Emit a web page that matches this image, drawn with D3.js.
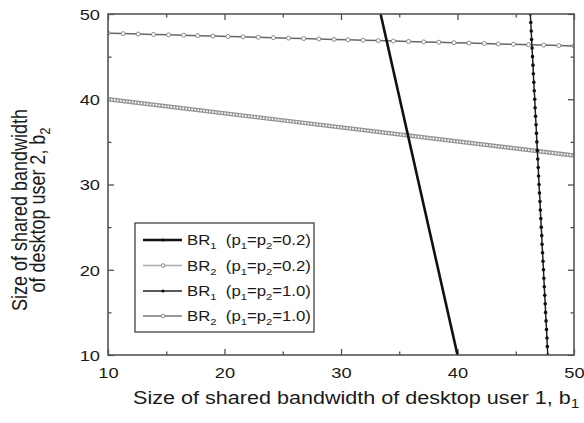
<!DOCTYPE html>
<html>
<head>
<meta charset="utf-8">
<script src="https://cdnjs.cloudflare.com/ajax/libs/d3/7.8.5/d3.min.js"></script>
<style>
  html, body { margin: 0; padding: 0; background: #fff; }
  svg { display: block; font-family: "Liberation Sans", Arial, sans-serif; }
  text { white-space: pre; }
</style>
</head>
<body>
<div id="chart"></div>
<script>
// ticks
const b1Ticks = [10, 20, 30, 40, 50];
const b2Ticks = [10, 20, 30, 40, 50];
const minorTicks = [15, 25, 35, 45];

// BR1 (p1=p2=0.2), plain thick black line
const br1LowB1 = [33.4, 40.0];
const br1LowB2 = [50, 10];

// BR2 (p1=p2=0.2), dense hollow markers
const br2LowB1 = [10, 50];
const br2LowB2 = [40.0, 33.4];

// BR1 (p1=p2=1.0), small filled markers
const br1HighB2 = [10, 11, 12, 13, 14, 15, 16, 17, 18, 19, 20, 21, 22, 23, 24, 25, 26, 27, 28, 29, 30,
                   31, 32, 33, 34, 35, 36, 37, 38, 39, 40, 41, 42, 43, 44, 45, 46, 47, 48, 49, 50];
const br1HighB1 = [47.75, 47.71, 47.68, 47.64, 47.60, 47.56, 47.53, 47.49, 47.45, 47.41, 47.38,
                   47.34, 47.30, 47.26, 47.23, 47.19, 47.15, 47.11, 47.08, 47.04, 47.00,
                   46.96, 46.93, 46.89, 46.85, 46.81, 46.78, 46.74, 46.70, 46.66, 46.63,
                   46.59, 46.55, 46.51, 46.48, 46.44, 46.40, 46.36, 46.33, 46.29, 46.25];

// BR2 (p1=p2=1.0), hollow circle markers
const br2HighB1 = [10, 11.3, 12.6, 13.9, 15.2, 16.5, 17.7, 19.0, 20.3, 21.6, 22.9, 24.2, 25.5, 26.8, 28.1, 29.4,
                   30.6, 31.9, 33.2, 34.5, 35.8, 37.1, 38.4, 39.7, 41.0, 42.3, 43.5, 44.8, 46.1, 47.4, 48.7, 50];
const br2HighB2 = [47.75, 47.70, 47.65, 47.60, 47.56, 47.51, 47.46, 47.41, 47.36, 47.32, 47.27, 47.22,
                   47.17, 47.12, 47.07, 47.02, 46.98, 46.93, 46.88, 46.83, 46.78, 46.73, 46.69, 46.64,
                   46.59, 46.54, 46.49, 46.45, 46.40, 46.35, 46.30, 46.25];

// legend
const legendSub = ["1", "2", "1", "2"];
const legendP = ["0.2", "0.2", "1.0", "1.0"];

const W = 584, H = 423;
const SX = 1.18; // the original glyphs are stretched sideways
const margin = { top: 14, right: 10, bottom: 68, left: 108 };
const plotW = W - margin.left - margin.right;
const plotH = H - margin.top - margin.bottom;

const svg = d3.select("#chart").append("svg")
    .attr("width", W)
    .attr("height", H);

const x = d3.scaleLinear().domain([10, 50]).range([margin.left, margin.left + plotW]);
const y = d3.scaleLinear().domain([10, 50]).range([margin.top + plotH, margin.top]);

svg.append("clipPath").attr("id", "plotClip")
  .append("rect")
    .attr("x", x(10)).attr("y", y(50))
    .attr("width", x(50) - x(10)).attr("height", y(10) - y(50));

// axes, ticks inward on all four sides
function styleAxis(g) {
    g.select(".domain").remove();
    g.selectAll(".tick line").attr("stroke-width", 1.2);
}

const axisColor = "#444";

svg.append("g").attr("color", axisColor)
    .attr("transform", `translate(0,${y(10)})`)
    .call(d3.axisBottom(x).tickValues(b1Ticks).tickSize(-6).tickFormat(d3.format("d")))
    .call(styleAxis)
    .call(g => g.selectAll("text")
        .attr("y", 12).attr("dy", "0.71em")
        .attr("fill", "#1a1a1a")
        .attr("font-size", 15.5)
        .attr("font-family", "Liberation Sans, Arial, sans-serif")
        .attr("transform", `scale(${SX},1)`));

svg.append("g").attr("color", axisColor)
    .attr("transform", `translate(0,${y(10)})`)
    .call(d3.axisBottom(x).tickValues(minorTicks).tickSize(-3.5).tickFormat(""))
    .call(styleAxis);

svg.append("g").attr("color", axisColor)
    .attr("transform", `translate(${x(10)},0)`)
    .call(d3.axisLeft(y).tickValues(b2Ticks).tickSize(-6).tickFormat(d3.format("d")))
    .call(styleAxis)
    .call(g => g.selectAll("text")
        .attr("x", -8 / SX).attr("dy", "0.35em")
        .attr("fill", "#1a1a1a")
        .attr("font-size", 15.5)
        .attr("font-family", "Liberation Sans, Arial, sans-serif")
        .attr("transform", `scale(${SX},1)`));

svg.append("g").attr("color", axisColor)
    .attr("transform", `translate(${x(10)},0)`)
    .call(d3.axisLeft(y).tickValues(minorTicks).tickSize(-3.5).tickFormat(""))
    .call(styleAxis);

svg.append("g").attr("color", axisColor)
    .attr("transform", `translate(0,${y(50)})`)
    .call(d3.axisTop(x).tickValues(b1Ticks).tickSize(-6).tickFormat(""))
    .call(styleAxis);
svg.append("g").attr("color", axisColor)
    .attr("transform", `translate(0,${y(50)})`)
    .call(d3.axisTop(x).tickValues(minorTicks).tickSize(-3.5).tickFormat(""))
    .call(styleAxis);

svg.append("g").attr("color", axisColor)
    .attr("transform", `translate(${x(50)},0)`)
    .call(d3.axisRight(y).tickValues(b2Ticks).tickSize(-6).tickFormat(""))
    .call(styleAxis);
svg.append("g").attr("color", axisColor)
    .attr("transform", `translate(${x(50)},0)`)
    .call(d3.axisRight(y).tickValues(minorTicks).tickSize(-3.5).tickFormat(""))
    .call(styleAxis);

// series
const line = d3.line().x(d => x(d[0])).y(d => y(d[1]));
const plot = svg.append("g").attr("clip-path", "url(#plotClip)");

// BR2 (0.2): gray band with white gaps, looks like a chain of hollow markers
const br2Low = d3.zip(br2LowB1, br2LowB2);
plot.append("path").datum(br2Low)
    .attr("d", line).attr("fill", "none")
    .attr("stroke", "#959595").attr("stroke-width", 4.4);
plot.append("path").datum(br2Low)
    .attr("d", line).attr("fill", "none")
    .attr("stroke", "#fff").attr("stroke-width", 1.8)
    .attr("stroke-dasharray", "1.6 1.4");

// BR2 (1.0)
const br2High = d3.zip(br2HighB1, br2HighB2);
plot.append("path").datum(br2High)
    .attr("d", line).attr("fill", "none")
    .attr("stroke", "#666").attr("stroke-width", 1.5);
plot.selectAll(".m2h").data(br2High).enter().append("circle")
    .attr("class", "m2h")
    .attr("cx", d => x(d[0])).attr("cy", d => y(d[1])).attr("r", 2)
    .attr("fill", "#fff").attr("stroke", "#8a8a8a").attr("stroke-width", 1);

// BR1 (1.0)
const br1High = d3.zip(br1HighB1, br1HighB2);
plot.append("path").datum(br1High)
    .attr("d", line).attr("fill", "none")
    .attr("stroke", "#222").attr("stroke-width", 1.5);
plot.selectAll(".m1h").data(br1High).enter().append("circle")
    .attr("class", "m1h")
    .attr("cx", d => x(d[0])).attr("cy", d => y(d[1])).attr("r", 1.8)
    .attr("fill", "#111");

// BR1 (0.2)
plot.append("path").datum(d3.zip(br1LowB1, br1LowB2))
    .attr("d", line).attr("fill", "none")
    .attr("stroke", "#111").attr("stroke-width", 2.6);

// frame
svg.append("rect")
    .attr("x", x(10)).attr("y", y(50))
    .attr("width", x(50) - x(10)).attr("height", y(10) - y(50))
    .attr("fill", "none").attr("stroke", "#555").attr("stroke-width", 1.6);

// legend
const legend = svg.append("g");
legend.append("rect")
    .attr("x", 135).attr("y", 223).attr("width", 179).attr("height", 109)
    .attr("fill", "#fff").attr("stroke", "#444").attr("stroke-width", 1.3);

const rowY = [240, 265.5, 291, 316];
const legendStroke = ["#111", "#aaa", "#222", "#777"];
const legendWidth = [2.4, 1.4, 1.5, 1.5];

legendSub.forEach((sub, i) => {
    const ry = rowY[i];
    legend.append("line")
        .attr("x1", 143).attr("x2", 182).attr("y1", ry).attr("y2", ry)
        .attr("stroke", legendStroke[i]).attr("stroke-width", legendWidth[i]);
    if (i === 1 || i === 3) {
        legend.append("circle").attr("cx", 163).attr("cy", ry).attr("r", 1.8)
            .attr("fill", "#fff").attr("stroke", "#888").attr("stroke-width", 1);
    } else {
        legend.append("circle").attr("cx", 163).attr("cy", ry).attr("r", 1.6).attr("fill", "#111");
    }
    const t = legend.append("g").attr("transform", `translate(187,${ry + 5}) scale(${SX},1)`)
        .append("text").attr("font-size", 14.2).attr("fill", "#1a1a1a");
    t.append("tspan").text("BR");
    t.append("tspan").attr("font-size", 9.5).attr("dy", 4).text(sub);
    t.append("tspan").attr("dy", -4).text("  (p");
    t.append("tspan").attr("font-size", 9.5).attr("dy", 4).text("1");
    t.append("tspan").attr("dy", -4).text("=p");
    t.append("tspan").attr("font-size", 9.5).attr("dy", 4).text("2");
    t.append("tspan").attr("dy", -4).text("=" + legendP[i] + ")");
});

// axis titles
const xt = svg.append("g").attr("transform", `translate(133,404) scale(${SX},1)`)
    .append("text").attr("font-size", 18.3).attr("fill", "#1a1a1a");
xt.append("tspan").text("Size of shared bandwidth of desktop user 1, b");
xt.append("tspan").attr("font-size", 13).attr("dy", 4).text("1");

const yCenter = 210;
svg.append("g").attr("transform", `translate(27,${yCenter}) rotate(-90) scale(1,${SX})`)
    .append("text").attr("text-anchor", "middle").attr("font-size", 18).attr("fill", "#1a1a1a")
    .text("Size of shared bandwidth");
const yt = svg.append("g").attr("transform", `translate(45,${yCenter}) rotate(-90) scale(1,${SX})`)
    .append("text").attr("text-anchor", "middle").attr("font-size", 18).attr("fill", "#1a1a1a");
yt.append("tspan").text("of desktop user 2, b");
yt.append("tspan").attr("font-size", 13).attr("dy", 4).text("2");
</script>
</body>
</html>
